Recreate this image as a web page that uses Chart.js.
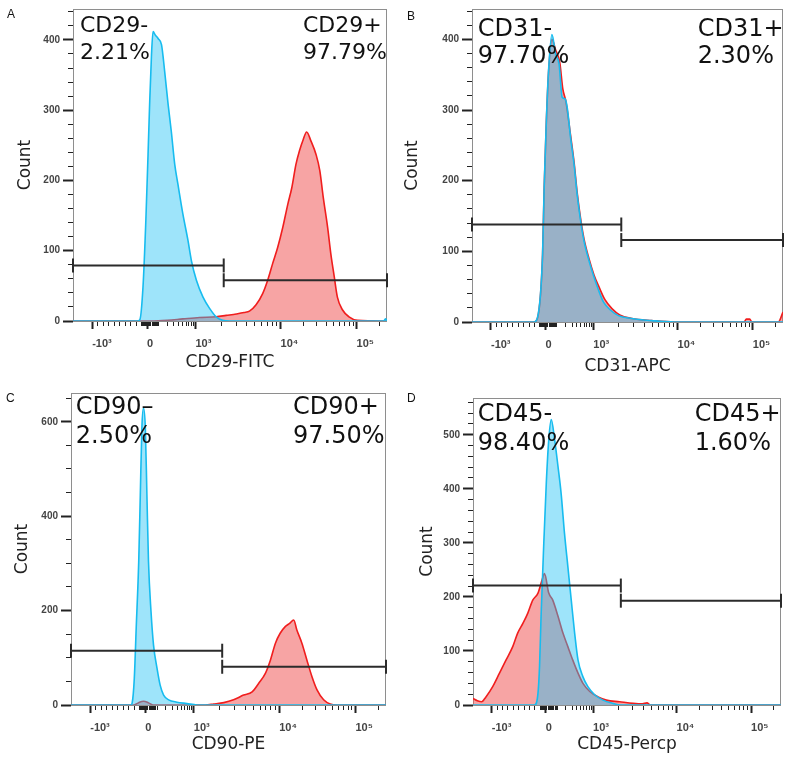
<!DOCTYPE html>
<html>
<head>
<meta charset="utf-8">
<script src="https://cdn.jsdelivr.net/npm/chart.js@4.4.1/dist/chart.umd.min.js"></script>
<style>
  body { margin: 0; background: #fff; }
  canvas { position: absolute; }
</style>
</head>
<body>
<canvas id="panelA" width="396" height="380" style="left:0;top:0"></canvas>
<canvas id="panelB" width="396" height="380" style="left:396px;top:0"></canvas>
<canvas id="panelC" width="396" height="381" style="left:0;top:380px"></canvas>
<canvas id="panelD" width="396" height="381" style="left:396px;top:380px"></canvas>
<script>
// x is the display channel (0-1000) of the biexponential axis
const xTickPos = [61, 236, 390, 661, 903];
const xTickLabels = ['-10³', '0', '10³', '10⁴', '10⁵'];
const minorMult = [2, 3, 4, 5, 6, 7, 8, 9];
const gateSplit = 480;

// A: CD29-FITC
const aBlueX = [0, 205, 213, 223, 232, 239, 244, 250, 255, 262, 271, 282, 292, 303, 313, 324, 334, 350, 366, 377, 393, 414, 435, 456, 477, 500, 990, 995, 1000];
const aBlueY = [0, 0, 2, 49, 143, 237, 308, 379, 412, 407, 402, 393, 355, 308, 270, 223, 195, 152, 115, 86, 58, 34, 18, 6, 1, 0, 0, 3, 0];
const aRedX = [0, 250, 300, 350, 403, 456, 488, 520, 545, 562, 583, 604, 620, 636, 652, 668, 684, 697, 710, 721, 733, 744, 758, 774, 786, 797, 811, 821, 832, 842, 858, 879, 906, 1000];
const aRedY = [0, 0, 1, 3, 5, 6, 8, 10, 12, 14, 23, 39, 58, 82, 105, 133, 166, 190, 223, 242, 258, 269, 256, 237, 214, 176, 133, 96, 63, 34, 16, 6, 1, 0];
const aYTicks = [0, 100, 200, 300, 400];
const aGates = [79, 58];
const aNeg = ['CD29-', '2.21%'];
const aPos = ['CD29+', '97.79%'];

// B: CD31-APC
const bBlueX = [0, 200, 211, 227, 232, 239, 246, 257, 269, 280, 290, 299, 306, 317, 328, 338, 349, 360, 376, 392, 407, 423, 445, 471, 514, 578, 650, 1000];
const bBlueY = [0, 0, 7, 97, 191, 285, 355, 407, 379, 365, 318, 316, 304, 261, 224, 181, 144, 115, 87, 64, 45, 28, 17, 9, 5, 2, 0, 0];
const bRedX = [0, 200, 211, 227, 232, 239, 246, 257, 269, 282, 292, 302, 317, 328, 338, 349, 360, 376, 392, 409, 427, 450, 475, 514, 578, 650, 875, 882, 893, 900, 985, 1000];
const bRedY = [0, 0, 6, 95, 188, 282, 352, 400, 385, 368, 330, 312, 264, 227, 184, 147, 118, 90, 67, 49, 32, 19, 10, 5, 2, 0, 0, 4, 4, 0, 0, 14];
const bYTicks = [0, 100, 200, 300, 400];
const bGates = [138, 116];
const bNeg = ['CD31-', '97.70%'];
const bPos = ['CD31+', '2.30%'];

// C: CD90-PE
const cBlueX = [0, 190, 194, 201, 207, 215, 220, 225, 230, 236, 241, 246, 254, 262, 273, 283, 294, 310, 336, 368, 400, 1000];
const cBlueY = [0, 0, 4, 57, 163, 304, 445, 587, 629, 587, 445, 304, 198, 127, 78, 42, 21, 11, 6, 3, 0, 0];
const cRedX = [0, 200, 215, 230, 245, 260, 420, 426, 453, 485, 516, 548, 575, 596, 617, 633, 649, 664, 680, 694, 707, 717, 733, 749, 765, 781, 802, 823, 845, 1000];
const cRedY = [0, 0, 5, 8, 5, 0, 0, 0, 2, 5, 11, 21, 28, 46, 67, 95, 131, 152, 166, 173, 180, 159, 131, 95, 60, 32, 11, 2, 0, 0];
const cYTicks = [0, 200, 400, 600];
const cGates = [115, 81];
const cNeg = ['CD90–', '2.50%'];
const cPos = ['CD90+', '97.50%'];

// D: CD45-Percp
const dBlueX = [0, 195, 200, 211, 216, 221, 229, 238, 246, 254, 265, 276, 286, 297, 308, 319, 330, 341, 357, 373, 395, 422, 454, 480, 1000];
const dBlueY = [0, 0, 0, 22, 71, 164, 287, 411, 491, 528, 491, 441, 392, 318, 256, 194, 133, 83, 52, 34, 19, 9, 3, 0, 0];
const dRedX = [0, 14, 28, 42, 64, 86, 107, 129, 145, 162, 178, 194, 211, 224, 232, 246, 259, 276, 292, 308, 324, 341, 357, 379, 406, 433, 476, 520, 550, 565, 575, 1000];
const dRedY = [12, 8, 6, 15, 34, 59, 83, 108, 133, 151, 170, 194, 207, 231, 243, 207, 194, 164, 133, 108, 83, 59, 40, 25, 15, 9, 6, 3, 2, 4, 0, 0];
const dYTicks = [0, 100, 200, 300, 400, 500];
const dGates = [221, 193];
const dNeg = ['CD45-', '98.40%'];
const dPos = ['CD45+', '1.60%'];

const BLUE = '#17bcef';
const BLUE_FILL = 'rgba(40, 195, 245, 0.45)';
const RED = '#f01e1e';
const RED_FILL = 'rgba(240, 90, 90, 0.55)';
const GATE = '#2b2b2b';

window.onload = inicio;

function inicio() {
  grafico('panelA', {
    letter: 'A', letterAt: [7, 18], xTitle: 'CD29-FITC',
    blueX: aBlueX, blueY: aBlueY, redX: aRedX, redY: aRedY,
    yTicks: aYTicks, yMax: 444, yMinor: 20, gates: aGates, neg: aNeg, pos: aPos,
    yw: 73, xh: 52, pad: { top: 7, right: 8, left: 0, bottom: 7 }, ty: 15,
    text: { size: 22, lx: 7, rx: 230, b1: 23, b2: 49.5 }
  });
  grafico('panelB', {
    letter: 'B', letterAt: [11, 19.5], xTitle: 'CD31-APC',
    blueX: bBlueX, blueY: bBlueY, redX: bRedX, redY: bRedY,
    yTicks: bYTicks, yMax: 443, yMinor: 20, gates: bGates, neg: bNeg, pos: bPos,
    yw: 76, xh: 55, pad: { top: 8, right: 6, left: 0, bottom: 3 }, ty: 6,
    text: { size: 24, lx: 5.7, rx: 225.7, b1: 26.7, b2: 54 }
  });
  grafico('panelC', {
    letter: 'C', letterAt: [6, 21.7], xTitle: 'CD90-PE',
    blueX: cBlueX, blueY: cBlueY, redX: cRedX, redY: cRedY,
    yTicks: cYTicks, yMax: 661, yMinor: 50, gates: cGates, neg: cNeg, pos: cPos,
    yw: 71, xh: 50, pad: { top: 13, right: 10, left: 0, bottom: 6 }, ty: 12,
    text: { size: 24, lx: 4.8, rx: 222, b1: 20.7, b2: 49.7 }
  });
  grafico('panelD', {
    letter: 'D', letterAt: [11, 21.7], xTitle: 'CD45-Percp',
    blueX: dBlueX, blueY: dBlueY, redX: dRedX, redY: dRedY,
    yTicks: dYTicks, yMax: 568, yMinor: 20, gates: dGates, neg: dNeg, pos: dPos,
    yw: 77, xh: 50, pad: { top: 18, right: 11, left: 0, bottom: 6 }, ty: 21,
    text: { size: 24, lx: 4.7, rx: 221.7, b1: 23.4, b2: 52.4 }
  });
}

// value -> display channel, only used to place the small ticks
function canal(v) {
  if (v >= 10000) return 661 + Math.log10(v / 10000) * 242;
  if (v >= 1000) return 390 + Math.log10(v / 1000) * 271;
  if (v < 0) return 236 + (v / 1000) * 175;
  return 236 + Math.asinh(v / 150) / Math.asinh(1000 / 150) * 154;
}

function minorTicks() {
  const out = [];
  for (const m of minorMult) {
    out.push(canal(-m * 100), canal(-m * 10), canal(m * 10), canal(m * 100), canal(m * 1000), canal(m * 10000));
  }
  out.push(canal(-100), canal(-10), canal(10), canal(100), canal(200000));
  return out.filter(v => v >= 0 && v <= 1000).sort((a, b) => a - b);
}

function puntos(xs, ys) {
  return xs.map((x, i) => ({ x: x, y: ys[i] }));
}

function gate(x0, x1, h) {
  return {
    data: [{ x: x0, y: h }, { x: x1, y: h }],
    borderColor: GATE, borderWidth: 2,
    pointStyle: 'line', pointRotation: 90, pointRadius: 7,
    pointBorderColor: GATE, pointBorderWidth: 2,
    fill: false, clip: false, order: 0
  };
}

const decor = {
  id: 'decor',
  beforeDatasetsDraw(chart) {
    const { ctx, chartArea: a } = chart;
    ctx.save();
    ctx.strokeStyle = '#8e8e8e';
    ctx.lineWidth = 1;
    ctx.strokeRect(a.left + 0.5, a.top + 0.5, a.width - 1, a.height);
    ctx.restore();
  },
  afterDatasetsDraw(chart, args, o) {
    const { ctx, chartArea: a } = chart;
    const t = o.text;
    ctx.save();
    ctx.fillStyle = '#111';
    ctx.textBaseline = 'alphabetic';
    ctx.textAlign = 'left';
    ctx.font = t.size + 'px "DejaVu Sans"';
    ctx.fillText(o.neg[0], a.left + t.lx, a.top + t.b1);
    ctx.fillText(o.neg[1], a.left + t.lx, a.top + t.b2);
    ctx.fillText(o.pos[0], a.left + t.rx, a.top + t.b1);
    ctx.fillText(o.pos[1], a.left + t.rx, a.top + t.b2);
    ctx.font = '12px "Liberation Sans"';
    ctx.fillText(o.letter, o.letterAt[0], o.letterAt[1]);
    ctx.restore();
  }
};

function grafico(id, p) {
  const ctx = document.getElementById(id);
  const minors = minorTicks();

  new Chart(ctx, {
    type: 'line',
    data: {
      datasets: [
        gate(0, gateSplit, p.gates[0]),
        gate(gateSplit, 1000, p.gates[1]),
        {
          data: puntos(p.blueX, p.blueY),
          borderColor: BLUE, backgroundColor: BLUE_FILL, borderWidth: 1.6,
          fill: 'origin', pointRadius: 0, cubicInterpolationMode: 'monotone', order: 1
        },
        {
          data: puntos(p.redX, p.redY),
          borderColor: RED, backgroundColor: RED_FILL, borderWidth: 1.6,
          fill: 'origin', pointRadius: 0, cubicInterpolationMode: 'monotone', order: 2
        }
      ]
    },
    plugins: [decor],
    options: {
      responsive: false,
      animation: false,
      layout: { padding: p.pad },
      plugins: {
        legend: { display: false },
        tooltip: { enabled: false },
        decor: { text: p.text, neg: p.neg, pos: p.pos, letter: p.letter, letterAt: p.letterAt }
      },
      scales: {
        x: {
          type: 'linear', position: 'bottom', min: 0, max: 1000, weight: 1,
          afterBuildTicks: s => { s.ticks = xTickPos.map(v => ({ value: v })); },
          afterFit: s => { s.height = p.xh; },
          ticks: {
            callback: (v, i) => xTickLabels[i], align: 'start', autoSkip: false, maxRotation: 0,
            padding: 8, color: '#444', font: { family: 'Liberation Sans', size: 11, weight: 'bold' }
          },
          grid: { drawOnChartArea: false, tickLength: 8, tickWidth: 2, tickColor: '#222' },
          border: { display: false },
          title: {
            display: true, text: p.xTitle, color: '#222', padding: 0,
            font: { family: 'DejaVu Sans', size: 17 }
          }
        },
        xm: {
          type: 'linear', position: 'bottom', min: 0, max: 1000, weight: 0,
          afterBuildTicks: s => { s.ticks = minors.map(v => ({ value: v })); },
          afterFit: s => { s.height = 0; },
          ticks: { display: false },
          grid: { drawOnChartArea: false, tickLength: 5, tickWidth: 1, tickColor: '#222' },
          border: { display: false }
        },
        y: {
          type: 'linear', position: 'left', min: 0, max: p.yMax, weight: 1,
          afterBuildTicks: s => { s.ticks = p.yTicks.map(v => ({ value: v })); },
          afterFit: s => { s.width = p.yw; },
          ticks: { padding: 3, color: '#444', font: { family: 'Liberation Sans', size: 10, weight: 'bold' } },
          grid: { drawOnChartArea: false, tickLength: 10, tickWidth: 2, tickColor: '#222' },
          border: { display: false },
          title: {
            display: true, text: 'Count', color: '#222', padding: { top: p.ty, bottom: 0 },
            font: { family: 'DejaVu Sans', size: 17 }
          }
        },
        ym: {
          type: 'linear', position: 'left', min: 0, max: p.yMax, weight: 0,
          afterBuildTicks: s => {
            const t = [];
            for (let v = 0; v <= p.yMax; v += p.yMinor) t.push({ value: v });
            s.ticks = t;
          },
          afterFit: s => { s.width = 0; },
          ticks: { display: false },
          grid: { drawOnChartArea: false, tickLength: 5, tickWidth: 1, tickColor: '#222' },
          border: { display: false }
        }
      }
    }
  });
}
</script>
</body>
</html>
